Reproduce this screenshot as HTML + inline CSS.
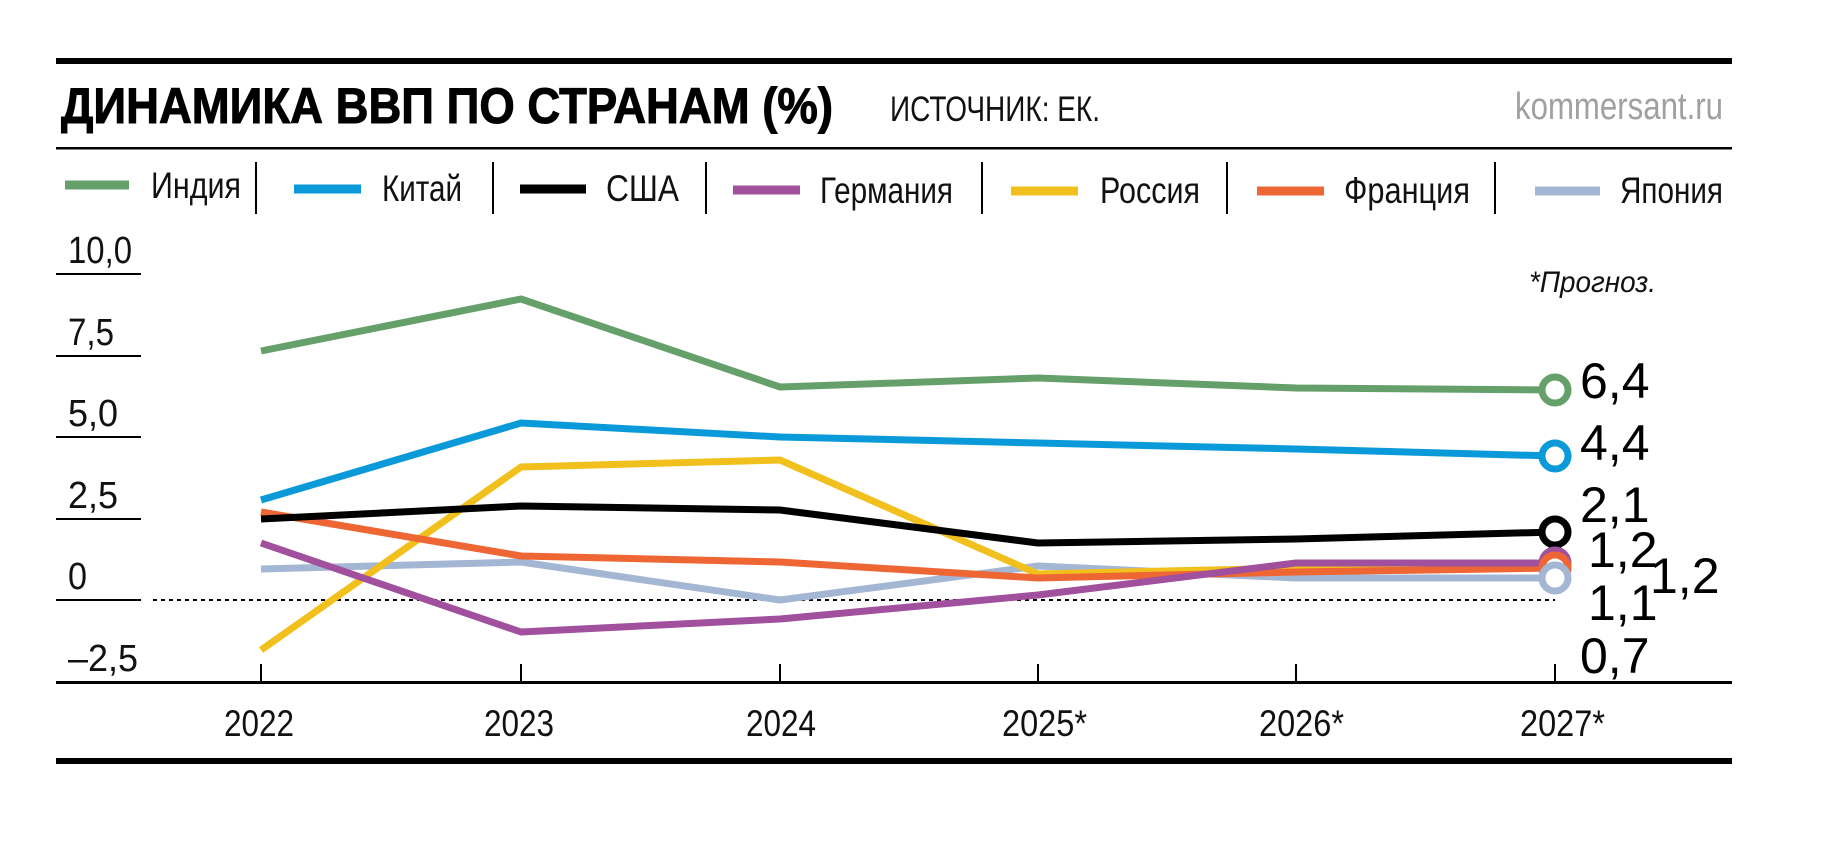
<!DOCTYPE html>
<html><head><meta charset="utf-8"><style>
html,body{margin:0;padding:0;background:#fff;}
svg{display:block;}
text{font-family:"Liberation Sans",sans-serif;}
</style></head><body>
<svg width="1835" height="857" viewBox="0 0 1835 857" xmlns="http://www.w3.org/2000/svg">
<rect x="56" y="58" width="1676" height="6" fill="#000"/>
<text x="61" y="123" font-size="50" font-weight="bold" textLength="772" lengthAdjust="spacingAndGlyphs" stroke="#000" stroke-width="1">ДИНАМИКА ВВП ПО СТРАНАМ (%)</text>
<text x="890" y="121" font-size="35" textLength="210" lengthAdjust="spacingAndGlyphs" fill="#111">ИСТОЧНИК: ЕК.</text>
<text x="1515" y="119" font-size="38" textLength="208" lengthAdjust="spacingAndGlyphs" fill="#a0a0a0">kommersant.ru</text>
<rect x="56" y="147" width="1676" height="2.5" fill="#000"/>
<!-- legend -->
<g stroke-width="9">
<line x1="65" y1="185" x2="129" y2="185" stroke="#65a06b"/>
<line x1="294" y1="189" x2="361" y2="189" stroke="#0a9ad9"/>
<line x1="520" y1="189" x2="586" y2="189" stroke="#000"/>
<line x1="733" y1="190" x2="800" y2="190" stroke="#a0509c"/>
<line x1="1011" y1="191" x2="1078" y2="191" stroke="#f2c01c"/>
<line x1="1257" y1="191" x2="1324" y2="191" stroke="#ee6634"/>
<line x1="1535" y1="191" x2="1600" y2="191" stroke="#a3b7d4"/>
</g>
<g stroke="#000" stroke-width="2">
<line x1="256" y1="162" x2="256" y2="214"/><line x1="493" y1="162" x2="493" y2="214"/>
<line x1="706" y1="162" x2="706" y2="214"/><line x1="982" y1="162" x2="982" y2="214"/>
<line x1="1227" y1="162" x2="1227" y2="214"/><line x1="1495" y1="162" x2="1495" y2="214"/>
</g>
<g font-size="37" fill="#111">
<text x="151" y="198" textLength="90" lengthAdjust="spacingAndGlyphs">Индия</text>
<text x="382" y="201" textLength="80" lengthAdjust="spacingAndGlyphs">Китай</text>
<text x="606" y="201" textLength="73" lengthAdjust="spacingAndGlyphs">США</text>
<text x="820" y="203" textLength="133" lengthAdjust="spacingAndGlyphs">Германия</text>
<text x="1100" y="203" textLength="100" lengthAdjust="spacingAndGlyphs">Россия</text>
<text x="1344" y="203" textLength="126" lengthAdjust="spacingAndGlyphs">Франция</text>
<text x="1620" y="203" textLength="103" lengthAdjust="spacingAndGlyphs">Япония</text>
</g>
<!-- y axis -->
<g font-size="38" fill="#111">
<text x="68" y="263" textLength="64" lengthAdjust="spacingAndGlyphs">10,0</text>
<text x="68" y="345" textLength="46" lengthAdjust="spacingAndGlyphs">7,5</text>
<text x="68" y="426" textLength="50" lengthAdjust="spacingAndGlyphs">5,0</text>
<text x="68" y="508" textLength="50" lengthAdjust="spacingAndGlyphs">2,5</text>
<text x="68" y="589" textLength="19" lengthAdjust="spacingAndGlyphs">0</text>
<text x="68" y="671" textLength="70" lengthAdjust="spacingAndGlyphs">–2,5</text>
</g>
<g stroke="#000" stroke-width="2">
<line x1="56" y1="274" x2="141" y2="274"/><line x1="56" y1="356" x2="141" y2="356"/>
<line x1="56" y1="437" x2="141" y2="437"/><line x1="56" y1="519" x2="141" y2="519"/>
<line x1="56" y1="600" x2="141" y2="600"/>
</g>
<line x1="153" y1="600" x2="1555" y2="600" stroke="#000" stroke-width="2" stroke-dasharray="4,4"/>
<text x="1529" y="292" font-size="30" font-style="italic" textLength="127" lengthAdjust="spacingAndGlyphs" fill="#111">*Прогноз.</text>
<!-- series -->
<g fill="none" stroke-width="7" stroke-linejoin="round">
<polyline stroke="#a3b7d4" points="261,569 521,562 780,600 1038,566 1296,578 1555,578"/>
<polyline stroke="#f2c01c" points="261,650 521,467 780,460 1038,574 1296,568 1555,566"/>
<polyline stroke="#ee6634" points="261,512 521,556 780,562 1038,578 1296,572 1555,568"/>
<polyline stroke="#a0509c" points="261,543 521,632 780,619 1038,595 1296,563 1555,563"/>
<polyline stroke="#000" points="261,519 521,506 780,510 1038,543 1296,539 1555,532"/>
<polyline stroke="#0a9ad9" points="261,500 521,423 780,437 1038,443 1296,449 1555,456"/>
<polyline stroke="#65a06b" points="261,351 521,299 780,387 1038,378 1296,388 1555,390"/>
</g>
<g fill="#fff" stroke-width="7">
<circle cx="1555" cy="390" r="13" stroke="#65a06b"/>
<circle cx="1555" cy="456" r="13" stroke="#0a9ad9"/>
<circle cx="1555" cy="532" r="13" stroke="#000"/>
<circle cx="1555" cy="563" r="13" stroke="#a0509c"/>
<circle cx="1555" cy="568" r="13" stroke="#ee6634"/>
<circle cx="1555" cy="578" r="13" stroke="#a3b7d4"/>
</g>
<g font-size="50" fill="#000">
<text x="1580" y="398">6,4</text>
<text x="1580" y="460">4,4</text>
<text x="1580" y="522">2,1</text>
<text x="1588" y="567">1,2</text>
<text x="1650" y="593">1,2</text>
<text x="1588" y="620">1,1</text>
<text x="1580" y="673">0,7</text>
</g>
<!-- x axis -->
<rect x="56" y="681" width="1676" height="3" fill="#000"/>
<g stroke="#000" stroke-width="2">
<line x1="261" y1="664" x2="261" y2="682"/><line x1="521" y1="664" x2="521" y2="682"/>
<line x1="780" y1="664" x2="780" y2="682"/><line x1="1038" y1="664" x2="1038" y2="682"/>
<line x1="1296" y1="664" x2="1296" y2="682"/><line x1="1555" y1="664" x2="1555" y2="682"/>
</g>
<g font-size="37" fill="#111">
<text x="224" y="736" textLength="70" lengthAdjust="spacingAndGlyphs">2022</text>
<text x="484" y="736" textLength="70" lengthAdjust="spacingAndGlyphs">2023</text>
<text x="746" y="736" textLength="70" lengthAdjust="spacingAndGlyphs">2024</text>
<text x="1002" y="736" textLength="85" lengthAdjust="spacingAndGlyphs">2025*</text>
<text x="1259" y="736" textLength="85" lengthAdjust="spacingAndGlyphs">2026*</text>
<text x="1520" y="736" textLength="85" lengthAdjust="spacingAndGlyphs">2027*</text>
</g>
<rect x="56" y="758" width="1676" height="6" fill="#000"/>
</svg>
</body></html>
